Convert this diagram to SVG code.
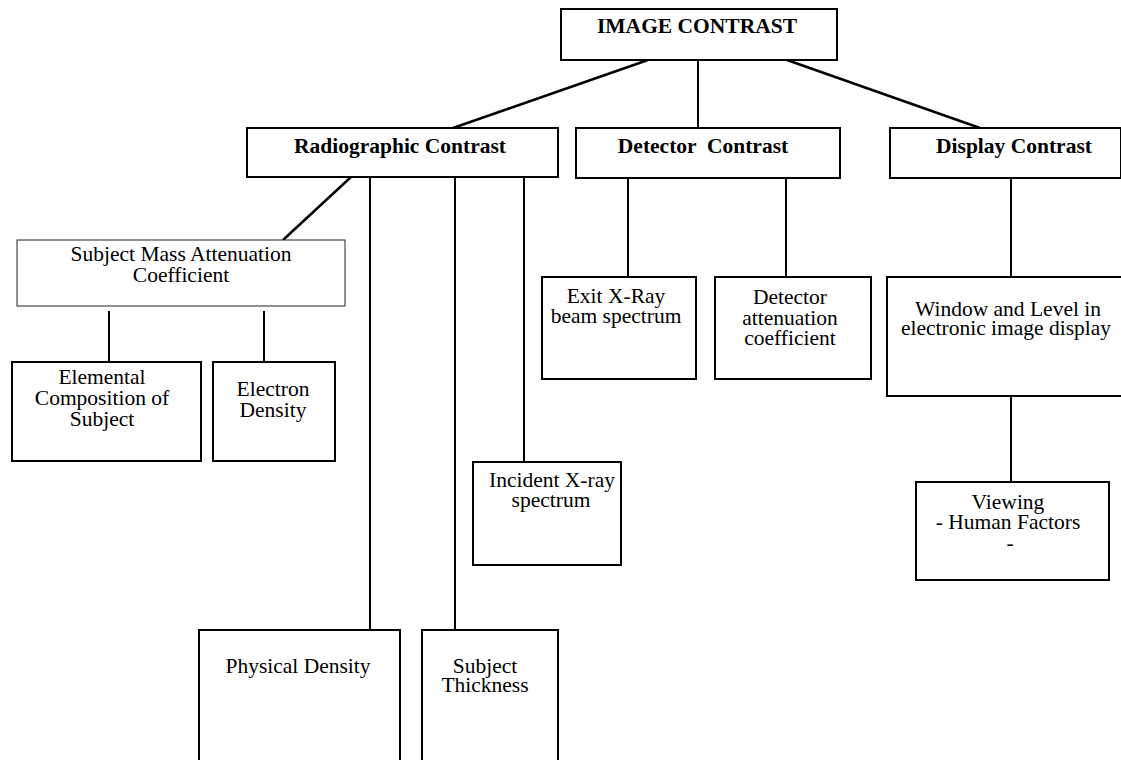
<svg xmlns="http://www.w3.org/2000/svg" width="1121" height="760" viewBox="0 0 1121 760">
<style>
.box{fill:#fff;stroke:#000;stroke-width:2}
.thin{fill:#fff;stroke:#222;stroke-width:1}
.t{font-family:"Liberation Serif","Times New Roman",serif;font-size:21.5px;fill:#000;text-anchor:middle}
.b{font-weight:bold}
.c line{stroke:#000;stroke-width:2}
</style>
<rect width="1121" height="760" fill="#fff"/>
<g class="c" id="connectors">
<line x1="648" y1="60" x2="453" y2="128" style="stroke-width:2.5"/>
<line x1="698" y1="60" x2="698" y2="128"/>
<line x1="787" y1="60" x2="980" y2="128" style="stroke-width:2.5"/>
<line x1="351" y1="177" x2="283" y2="240" style="stroke-width:2.5"/>
<line x1="370" y1="177" x2="370" y2="630"/>
<line x1="455" y1="177" x2="455" y2="630"/>
<line x1="524" y1="177" x2="524" y2="462"/>
<line x1="109" y1="311" x2="109" y2="362"/>
<line x1="264" y1="311" x2="264" y2="362"/>
<line x1="628" y1="178" x2="628" y2="277"/>
<line x1="786" y1="178" x2="786" y2="277"/>
<line x1="1011" y1="178" x2="1011" y2="277"/>
<line x1="1011" y1="396" x2="1011" y2="482"/>
</g>
<g id="image-contrast">
<rect class="box" x="561" y="9" width="276" height="51"/>
<text class="t b" x="697" y="33">IMAGE CONTRAST</text>
</g>
<g id="radiographic-contrast">
<rect class="box" x="247" y="128" width="311" height="49"/>
<text class="t b" x="400" y="153">Radiographic Contrast</text>
</g>
<g id="detector-contrast">
<rect class="box" x="576" y="128" width="264" height="50"/>
<text class="t b" x="703" y="153" xml:space="preserve">Detector  Contrast</text>
</g>
<g id="display-contrast">
<rect class="box" x="890" y="128" width="231" height="50"/>
<text class="t b" x="1014" y="153">Display Contrast</text>
</g>
<g id="subject-mass">
<rect class="thin" x="17" y="240" width="328" height="66"/>
<text class="t" x="181" y="261">Subject Mass Attenuation</text>
<text class="t" x="181" y="282">Coefficient</text>
</g>
<g id="elemental">
<rect class="box" x="12" y="362" width="189" height="99"/>
<text class="t" x="102" y="384">Elemental</text>
<text class="t" x="102" y="405">Composition of</text>
<text class="t" x="102" y="426">Subject</text>
</g>
<g id="electron">
<rect class="box" x="213" y="362" width="122" height="99"/>
<text class="t" x="273" y="396">Electron</text>
<text class="t" x="273" y="417">Density</text>
</g>
<g id="exit-xray">
<rect class="box" x="542" y="277" width="154" height="102"/>
<text class="t" x="616" y="303">Exit X-Ray</text>
<text class="t" x="616" y="323">beam spectrum</text>
</g>
<g id="detector-attenuation">
<rect class="box" x="715" y="277" width="156" height="102"/>
<text class="t" x="790" y="304">Detector</text>
<text class="t" x="790" y="325">attenuation</text>
<text class="t" x="790" y="345">coefficient</text>
</g>
<g id="window-level">
<rect class="box" x="887" y="277" width="236" height="119"/>
<text class="t" x="1008" y="316">Window and Level in</text>
<text class="t" x="1006" y="335">electronic image display</text>
</g>
<g id="viewing">
<rect class="box" x="916" y="482" width="193" height="98"/>
<text class="t" x="1008" y="509">Viewing</text>
<text class="t" x="1008" y="529">- Human Factors</text>
<text class="t" x="1010" y="550">-</text>
</g>
<g id="incident">
<rect class="box" x="473" y="462" width="148" height="103"/>
<text class="t" x="552" y="487">Incident X-ray</text>
<text class="t" x="551" y="507">spectrum</text>
</g>
<g id="physical-density">
<rect class="box" x="199" y="630" width="201" height="140"/>
<text class="t" x="298" y="673">Physical Density</text>
</g>
<g id="subject-thickness">
<rect class="box" x="422" y="630" width="136" height="140"/>
<text class="t" x="485" y="673">Subject</text>
<text class="t" x="485" y="692">Thickness</text>
</g>
</svg>
